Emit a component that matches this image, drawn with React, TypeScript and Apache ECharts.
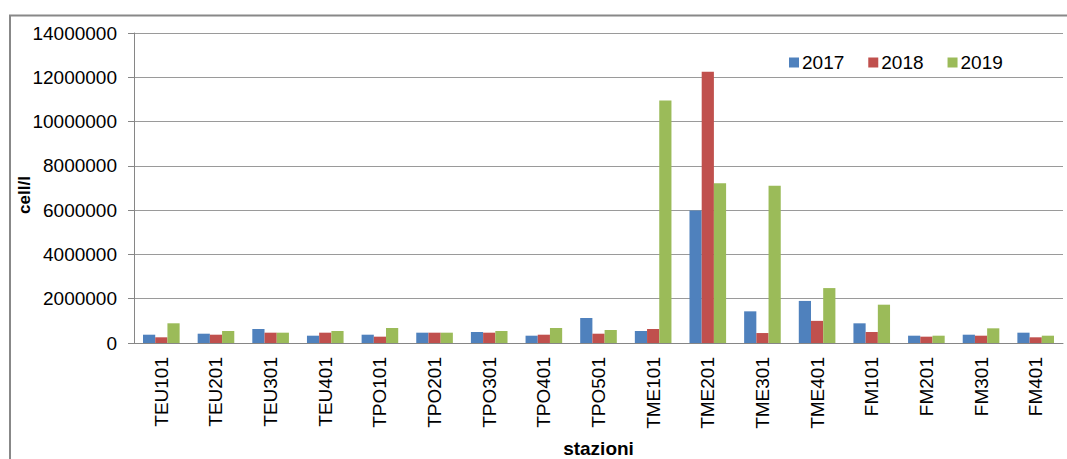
import React, { useEffect, useRef } from "react";
import * as echarts from "echarts";

const categories = [
  "TEU101", "TEU201", "TEU301", "TEU401", "TPO101", "TPO201", "TPO301", "TPO401", "TPO501",
  "TME101", "TME201", "TME301", "TME401", "FM101", "FM201", "FM301", "FM401",
];
const seriesNames = ["2017", "2018", "2019"];
const values2017 = [375000, 420000, 630000, 330000, 375000, 466000, 497000, 330000, 1130000, 542000, 5980000, 1430000, 1900000, 889000, 330000, 375000, 466000];
const values2018 = [257000, 375000, 466000, 466000, 286000, 466000, 466000, 375000, 420000, 632000, 12250000, 450000, 1000000, 497000, 286000, 330000, 257000];
const values2019 = [890000, 542000, 466000, 542000, 677000, 466000, 542000, 677000, 587000, 10950000, 7220000, 7100000, 2480000, 1730000, 330000, 663000, 330000];
const colors = ["#4F81BD", "#C0504D", "#9BBB59"];
const yTicks = { min: 0, max: 14000000, interval: 2000000 };

const FONT = "'Liberation Sans', Arial, sans-serif";

export default function App() {
  const ref = useRef<HTMLDivElement>(null);
  useEffect(() => {
    if (!ref.current) return;
    const chart = echarts.init(ref.current, undefined, { renderer: "svg" });
    const data = [values2017, values2018, values2019];
    chart.setOption({
      animation: false,
      backgroundColor: "#ffffff",
      textStyle: { fontFamily: FONT },
      grid: { left: 134, right: 4, top: 33, bottom: 116, containLabel: false, outerBoundsMode: "none" },
      legend: {
        data: seriesNames,
        left: 784,
        top: 48,
        itemWidth: 10,
        itemHeight: 10,
        itemGap: 24,
        icon: "rect",
        textStyle: { fontSize: 19, color: "#000", fontFamily: FONT, padding: [0, 0, 0, -2] },
      },
      xAxis: {
        type: "category",
        data: categories,
        axisLine: { show: true, lineStyle: { color: "#868686", width: 1 } },
        axisTick: { show: false },
        axisLabel: { rotate: 90, fontSize: 19, color: "#000", margin: 14, fontFamily: FONT },
        name: "stazioni",
        nameLocation: "middle",
        nameGap: 96,
        nameMoveOverlap: false,
        nameTextStyle: { fontSize: 19, fontWeight: "bold", color: "#000", fontFamily: FONT },
      },
      yAxis: {
        type: "value",
        min: yTicks.min,
        max: yTicks.max,
        interval: yTicks.interval,
        axisLine: { show: true, lineStyle: { color: "#868686", width: 1 } },
        axisTick: { show: true, length: 6, lineStyle: { color: "#868686" } },
        axisLabel: {
          fontSize: 19,
          color: "#000",
          margin: 17,
          fontFamily: FONT,
          formatter: (v: number) => String(v),
        },
        splitLine: { show: true, lineStyle: { color: "#9a9a9a", width: 1 } },
        name: "cell/l",
        nameLocation: "middle",
        nameRotate: 90,
        nameGap: 101,
        nameMoveOverlap: false,
        nameTextStyle: {
          fontSize: 17,
          fontWeight: "bold",
          color: "#000",
          fontFamily: FONT,
          padding: [0, 14, 0, 0],
        },
      },
      graphic: [
        {
          type: "rect",
          shape: { x: 10, y: 15.5, width: 1200, height: 600 },
          style: { fill: "none", stroke: "#888888", lineWidth: 2 },
          silent: true,
        },
      ],
      series: seriesNames.map((name, i) => ({
        name,
        type: "bar",
        data: data[i],
        barGap: "0%",
        barCategoryGap: "33%",
        itemStyle: { color: colors[i] },
      })),
    });
    return () => chart.dispose();
  }, []);
  return <div ref={ref} style={{ width: 1067, height: 459, position: "absolute", left: 0, top: 0 }} />;
}
